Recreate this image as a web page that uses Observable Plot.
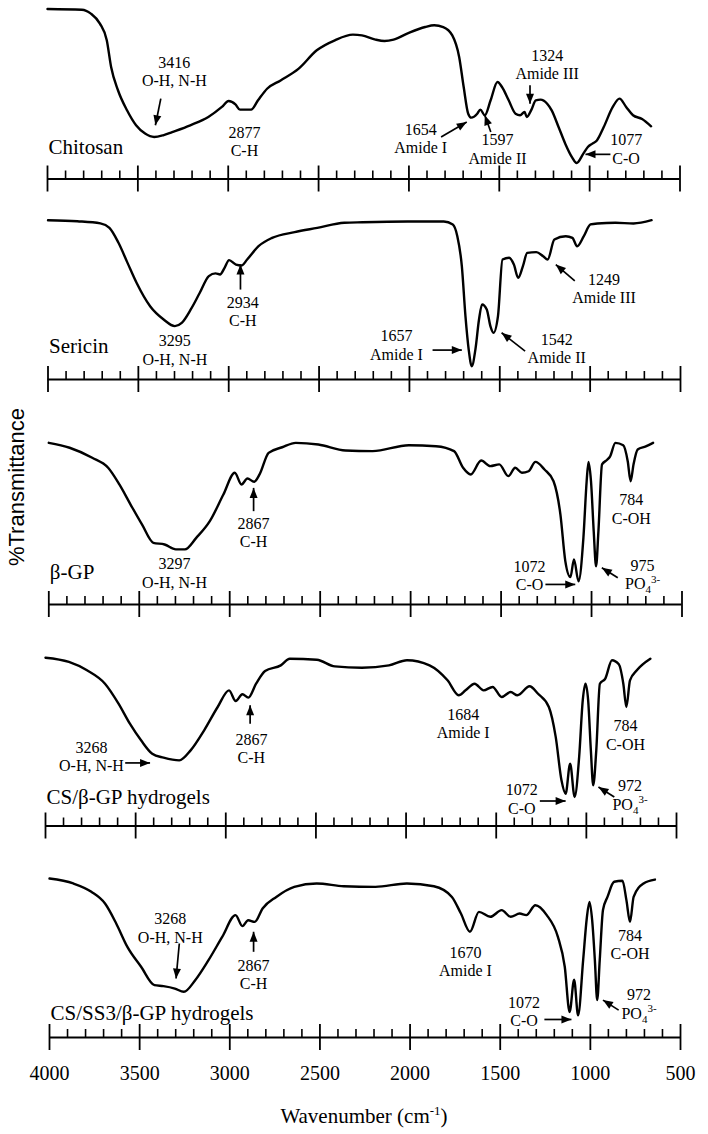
<!DOCTYPE html>
<html><head><meta charset="utf-8">
<script src="https://cdn.jsdelivr.net/npm/d3@7"></script>
<script src="https://cdn.jsdelivr.net/npm/@observablehq/plot@0.6"></script>
<style>
body{margin:0;background:#fff;}
#chart{position:relative;width:708px;height:1134px;overflow:hidden;background:#fff;}
.panel{position:absolute;left:0;}
.panel svg text{font-family:"Liberation Serif","Times New Roman",serif;}
#ylab{position:absolute;left:17px;top:487px;transform:translate(-50%,-50%) rotate(-90deg);font:22px "Liberation Sans",Arial,sans-serif;white-space:nowrap;color:#000;}
#xlab{position:absolute;left:364px;top:1116px;transform:translate(-50%,-50%);font:21px "Liberation Serif","Times New Roman",serif;white-space:nowrap;color:#000;}
#xlab sup{font-size:13px;}
</style></head><body>
<div id="chart"><div id="ylab">%Transmittance</div><div id="xlab">Wavenumber (cm<sup>-1</sup>)</div></div>
<script>
// ---- data: [wavenumber (cm-1), %T (arbitrary, per spectrum)] ----
const chitosan = [[4000,100],[3810,99.6],[3760,97.3],[3710,91.4],[3672,81.6],[3648,65.9],[3610,52.2],[3560,40.4],[3510,31.6],[3460,26.7],[3410,24.7],[3360,25.7],[3310,27.6],[3210,31.6],[3110,36.5],[3035,42.4],[2998,45.9],[2960,43.9],[2935,40.8],[2873,40.8],[2835,46.3],[2785,53.1],[2710,58.0],[2610,64.9],[2510,75.7],[2410,81.6],[2310,84.9],[2260,84.5],[2185,82.0],[2135,81.2],[2085,82.0],[2010,85.5],[1910,89.4],[1860,90.4],[1810,89.4],[1760,84.5],[1722,71.8],[1697,54.1],[1672,38.4],[1655,36.1],[1622,38.4],[1605,40.8],[1580,37.5],[1548,46.3],[1510,57.1],[1485,54.1],[1448,46.3],[1410,38.4],[1385,37.5],[1360,39.4],[1348,36.5],[1322,40.8],[1298,46.3],[1272,46.7],[1235,44.3],[1210,40.4],[1172,30.6],[1135,20.8],[1098,12.9],[1072,9.4],[1035,14.9],[1010,18.8],[985,20.8],[960,22.7],[922,30.6],[872,42.4],[835,47.3],[798,42.4],[760,37.5],[710,35.3],[660,31.0]];
const sericin = [[4000,93.7],[3838,93.1],[3710,91.8],[3660,89.2],[3610,80.4],[3560,68.6],[3510,56.9],[3435,43.1],[3360,35.3],[3298,31.4],[3260,33.3],[3210,41.2],[3160,51.0],[3110,60.8],[3073,62.4],[3048,61.8],[3023,65.7],[2998,70.2],[2960,67.6],[2928,67.1],[2898,70.6],[2835,78.4],[2760,83.3],[2635,86.7],[2510,89.2],[2360,92.2],[2260,92.5],[2010,92.9],[1810,92.9],[1760,91.2],[1735,84.3],[1710,66.7],[1690,37.3],[1672,17.6],[1655,7.8],[1635,17.6],[1615,35.3],[1598,44.1],[1572,41.2],[1552,31.4],[1535,27.5],[1510,37.3],[1485,70.6],[1448,71.6],[1422,67.6],[1398,59.8],[1372,66.7],[1348,74.5],[1298,74.9],[1260,72.5],[1235,70.6],[1198,82.4],[1135,84.3],[1098,83.3],[1072,78.4],[1035,84.3],[998,91.2],[960,91.8],[860,92.2],[760,91.8],[660,93.7]];
const betaGP = [[4000,95.1],[3885,92.2],[3760,86.3],[3672,80.4],[3610,70.6],[3548,58.8],[3485,47.1],[3422,36.3],[3360,35.3],[3298,32.4],[3248,32.4],[3185,39.2],[3110,49.0],[3035,64.7],[2972,77.5],[2935,70.6],[2902,74.1],[2865,72.2],[2835,76.5],[2785,89.2],[2710,92.5],[2635,95.1],[2510,94.1],[2360,90.6],[2210,90.2],[2010,93.7],[1860,93.1],[1760,90.2],[1710,80.4],[1668,76.5],[1610,84.7],[1560,81.4],[1510,82.4],[1460,75.5],[1422,80.4],[1385,77.5],[1348,78.4],[1310,83.9],[1260,79.4],[1210,72.5],[1172,52.9],[1145,25.5],[1117,16.1],[1097,26.5],[1072,13.7],[1045,39.2],[1027,72.5],[1017,83.9],[1003,72.5],[988,43.1],[975,22.5],[962,43.1],[942,82.4],[915,85],[898,87],[868,95.1],[825,93.7],[800,84.3],[784,72.5],[768,82.4],[745,91.2],[700,93],[660,95.1]];
const csGP = [[4000,99.0],[3870,96.5],[3770,91.6],[3670,83.7],[3595,72.0],[3532,60.2],[3470,50.4],[3408,42.5],[3345,40.2],[3258,38.6],[3195,44.5],[3120,56.3],[3045,70.0],[2982,79.8],[2945,73.5],[2908,77.5],[2875,75.5],[2832,83.7],[2782,91.2],[2695,94.5],[2645,98.4],[2495,97.8],[2395,93.9],[2245,93.1],[2095,94.5],[1995,97.5],[1870,94.5],[1770,85.7],[1708,76.9],[1670,79.8],[1620,83.7],[1570,79.8],[1520,81.8],[1470,75.9],[1420,78.8],[1382,76.9],[1315,82.2],[1268,77.8],[1208,70.0],[1170,52.4],[1138,26.9],[1115,19.0],[1090,36.7],[1065,17.1],[1040,40.6],[1020,73.9],[1005,83.7],[990,73.9],[975,44.5],[962,23.9],[945,44.5],[925,83.7],[895,86.7],[858,97.5],[820,95.1],[795,83.7],[778,70.0],[758,85.7],[720,91.6],[645,98.4]];
const csSSGP = [[4000,93.5],[3868,90.6],[3768,85.7],[3692,78.8],[3630,67.1],[3568,53.3],[3492,41.6],[3418,30.8],[3368,30.2],[3305,28.8],[3255,26.9],[3192,33.7],[3118,45.5],[3042,59.2],[2968,72.0],[2930,65.5],[2898,69.0],[2862,68.0],[2818,75.9],[2742,82.7],[2642,88.6],[2518,90.6],[2368,89.0],[2192,88.6],[2018,90.6],[1868,89.0],[1768,82.7],[1718,72.9],[1668,62.2],[1618,73.9],[1555,71.0],[1492,74.9],[1442,71.0],[1392,72.9],[1355,72.0],[1305,77.8],[1242,72.0],[1180,59.2],[1142,41.6],[1115,15],[1090,34],[1068,13],[1040,45.5],[1020,70],[1005,79.8],[990,69.0],[975,45.5],[962,22.0],[948,45.5],[930,75],[905,82.7],[868,91.6],[822,92.2],[800,80.8],[780,68.0],[760,82.7],[705,90.6],[642,92.9]];

const sampleNames = ["Chitosan","Sericin","β-GP","CS/β-GP hydrogels","CS/SS3/β-GP hydrogels"];
const sampleSpectra = [chitosan, sericin, betaGP, csGP, csSSGP];
const sampleNameT = [18.8, 19.6, 19.2, 17, 14.1];

const majorTicks = [4000,3500,3000,2500,2000,1500,1000,500];
const minorTicks = [3900,3800,3700,3600,3400,3300,3200,3100,2900,2800,2700,2600,2400,2300,2200,2100,1900,1800,1700,1600,1400,1300,1200,1100,900,800,700,600];

// peak annotations (text at wavenumber / %T of the text block centre)
const peakLabels = [
  {s:0, wn:3298, T:63.4, text:"3416\nO-H, N-H"},
  {s:0, wn:2910, T:22.3, text:"2877\nC-H"},
  {s:0, wn:1935, T:24.2, text:"1654\nAmide I"},
  {s:0, wn:1510, T:17.8, text:"1597\nAmide II"},
  {s:0, wn:1235, T:67.4, text:"1324\nAmide III"},
  {s:0, wn:798,  T:17.8, text:"1077\nC-O"},
  {s:1, wn:2922, T:40.2, text:"2934\nC-H"},
  {s:1, wn:3298, T:17.6, text:"3295\nO-H, N-H"},
  {s:1, wn:2072, T:20.6, text:"1657\nAmide I"},
  {s:1, wn:1185, T:18.6, text:"1542\nAmide II"},
  {s:1, wn:923,  T:53.9, text:"1249\nAmide III"},
  {s:2, wn:3305, T:18.8, text:"3297\nO-H, N-H"},
  {s:2, wn:2868, T:42.4, text:"2867\nC-H"},
  {s:2, wn:780,  T:56.4, text:"784\nC-OH"},
  {s:2, wn:1343, T:17.2, text:"1072\nC-O"},
  {s:2, wn:718,  T:17.7, text:"975\nPO₄³⁻"},
  {s:3, wn:3745, T:41.1, text:"3268\nO-H, N-H"},
  {s:3, wn:2858, T:46.0, text:"2867\nC-H"},
  {s:3, wn:1683, T:60.7, text:"1684\nAmide I"},
  {s:3, wn:783,  T:53.8, text:"784\nC-OH"},
  {s:3, wn:1358, T:16.1, text:"1072\nC-O"},
  {s:3, wn:758,  T:18.5, text:"972\nPO₄³⁻"},
  {s:4, wn:3330, T:64.6, text:"3268\nO-H, N-H"},
  {s:4, wn:2868, T:37.2, text:"2867\nC-H"},
  {s:4, wn:1693, T:45.0, text:"1670\nAmide I"},
  {s:4, wn:780,  T:54.8, text:"784\nC-OH"},
  {s:4, wn:1368, T:15.6, text:"1072\nC-O"},
  {s:4, wn:730,  T:20.0, text:"972\nPO₄³⁻"}
];
const peakArrows = [
  {s:0, wn1:3373, T1:47.3, wn2:3403, T2:31.6},
  {s:0, wn1:1822, T1:24.7, wn2:1680, T2:33.5},
  {s:0, wn1:1547, T1:27.6, wn2:1580, T2:37.5},
  {s:0, wn1:1330, T1:55.1, wn2:1330, T2:44.3},
  {s:0, wn1:885,  T1:14.5, wn2:1023, T2:14.5},
  {s:1, wn1:2935, T1:52.9, wn2:2935, T2:67.6},
  {s:1, wn1:1872, T1:17.3, wn2:1710, T2:17.3},
  {s:1, wn1:1360, T1:16.7, wn2:1490, T2:27.5},
  {s:1, wn1:1085, T1:58.0, wn2:1190, T2:67.6},
  {s:2, wn1:2868, T1:54.9, wn2:2868, T2:68.6},
  {s:2, wn1:1255, T1:11.8, wn2:1090, T2:11.8},
  {s:2, wn1:855,  T1:15.7, wn2:943,  T2:21.6},
  {s:3, wn1:3558, T1:37.1, wn2:3420, T2:37.1},
  {s:3, wn1:2865, T1:60.2, wn2:2865, T2:71.0},
  {s:3, wn1:1258, T1:14.7, wn2:1115, T2:14.7},
  {s:3, wn1:845,  T1:17.1, wn2:933,  T2:22.9},
  {s:4, wn1:3280, T1:55.3, wn2:3298, T2:34.7},
  {s:4, wn1:2868, T1:50.4, wn2:2868, T2:62.2},
  {s:4, wn1:1255, T1:10.6, wn2:1105, T2:10.6},
  {s:4, wn1:843,  T1:16.1, wn2:930,  T2:22.0}
];

// ---- layout (pixels) ----
const panelLayout = [
  {top:0,   height:200, axis:178.5, left:47,   right:28.5},
  {top:200, height:222, axis:379,   left:47.5, right:28},
  {top:422, height:222, axis:604,   left:48.3, right:26.5},
  {top:644, height:212, axis:825.5, left:45,   right:32},
  {top:856, height:240, axis:1037,  left:49,   right:28}
];
const PX_PER_T = 1.7;
const serif = '"Liberation Serif","Times New Roman",serif';
const chart = document.getElementById("chart");

sampleNames.forEach((name, i) => {
  const L = panelLayout[i];
  const kx = (708 - L.left - L.right) / 3500;
  const data = sampleSpectra[i].map(([wn, T]) => ({wn, T}));
  const labels = peakLabels.filter(d => d.s === i);
  const arrows = peakArrows.filter(d => d.s === i).map(d => {
    const dxp = -(d.wn2 - d.wn1) * kx, dyp = -(d.T2 - d.T1) * PX_PER_T;
    return {...d, angle: Math.atan2(dxp, -dyp) * 180 / Math.PI};
  });
  const svg = Plot.plot({
    width: 708, height: L.height,
    marginLeft: L.left, marginRight: L.right,
    marginTop: L.axis - 170 - L.top, marginBottom: L.top + L.height - L.axis,
    x: {domain: [4000, 500]},
    y: {domain: [0, 100], axis: null},
    style: {fontFamily: serif, background: "transparent", overflow: "visible", color: "#000"},
    marks: [
      Plot.ruleY([0], {strokeWidth: 2}),
      Plot.axisX(majorTicks, {tickSize: 26, dy: -13, tickFormat: () => "", label: null, strokeWidth: 1.8}),
      Plot.axisX(minorTicks, {tickSize: 8, dy: -8, tickFormat: () => "", label: null, strokeWidth: 1.6}),
      i === 4 ? Plot.axisX(majorTicks, {tickSize: 0, tickPadding: 28, fontSize: 20, fontFamily: serif, fontVariant: "normal", label: null, tickFormat: d => String(d)}) : null,
      Plot.line(data, {x: "wn", y: "T", curve: "monotone-x", strokeWidth: 2.4, stroke: "#000"}),
      Plot.text(labels, {x: "wn", y: "T", text: "text", fontSize: 16, fontFamily: serif, lineHeight: 1.15, lineAnchor: "middle", fill: "#000"}),
      Plot.link(arrows, {x1: "wn1", y1: "T1", x2: "wn2", y2: "T2", strokeWidth: 1.7, stroke: "#000"}),
      Plot.vector(arrows, {x: "wn2", y: "T2", rotate: "angle", length: 10, r: 4, shape: "spike", anchor: "end", fill: "#000", stroke: "none"}),
      Plot.text([name], {x: () => 4000, y: () => sampleNameT[i], text: d => d, textAnchor: "start", fontSize: 21, fontFamily: serif, dx: 1, fill: "#000"})
    ]
  });
  // sub/superscripts for phosphate
  svg.querySelectorAll("tspan, text").forEach(el => {
    if (el.children.length === 0 && el.textContent === "PO₄³⁻") {
      el.textContent = "PO";
      const ns = "http://www.w3.org/2000/svg";
      const sub = document.createElementNS(ns, "tspan");
      sub.setAttribute("font-size", "11"); sub.setAttribute("dy", "4"); sub.textContent = "4";
      const sup = document.createElementNS(ns, "tspan");
      sup.setAttribute("font-size", "11"); sup.setAttribute("dy", "-11"); sup.textContent = "3-";
      el.appendChild(sub); el.appendChild(sup);
    }
  });
  const wrap = document.createElement("div");
  wrap.className = "panel";
  wrap.style.top = L.top + "px";
  wrap.appendChild(svg);
  chart.appendChild(wrap);
});
</script>
</body></html>
